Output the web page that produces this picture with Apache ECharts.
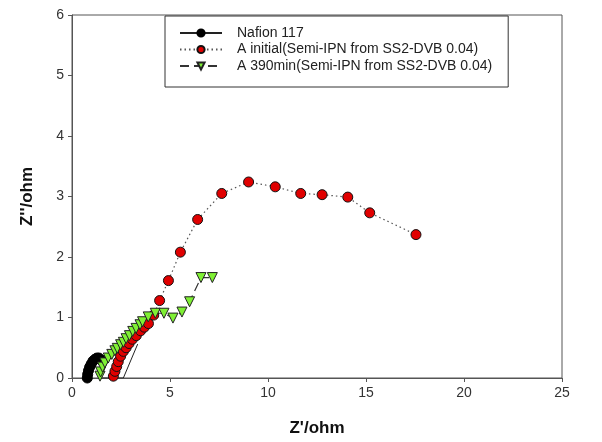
<!DOCTYPE html>
<html>
<head>
<meta charset="utf-8">
<script src="https://cdn.jsdelivr.net/npm/echarts@6/dist/echarts.min.js"></script>
<style>
  html, body { margin: 0; padding: 0; background: #fff; }
  #main { width: 602px; height: 442px; }
</style>
</head>
<body>
<div id="main"></div>
<script>
// Nyquist data (Z' , Z'')
const nafionX = [0.78, 0.80, 0.84, 0.90, 0.98, 1.07, 1.17, 1.27, 1.37, 1.47, 1.50, 2.62, 3.35]
const nafionY = [0.00, 0.06, 0.12, 0.18, 0.23, 0.28, 0.31, 0.33, 0.33, 0.30, 0.00, 0.00, 0.56]
// last three Nafion points carry no marker (only the line shows)
const nafionHidden = [false, false, false, false, false, false, false, false, false, false, true, true, true]

const initialX = [2.11, 2.19, 2.28, 2.36, 2.48, 2.62, 2.76, 2.91, 3.08, 3.28, 3.50, 3.69, 3.90, 4.17, 4.47, 4.92, 5.53, 6.41, 7.64, 9.01, 10.37, 11.67, 12.76, 14.07, 15.19, 17.55]
const initialY = [0.03, 0.11, 0.19, 0.27, 0.36, 0.44, 0.50, 0.57, 0.64, 0.70, 0.78, 0.84, 0.90, 1.04, 1.28, 1.61, 2.08, 2.62, 3.05, 3.24, 3.16, 3.05, 3.03, 2.99, 2.73, 2.37]

const min390X = [1.43, 1.46, 1.56, 1.68, 1.85, 2.03, 2.19, 2.31, 2.48, 2.62, 2.76, 2.93, 3.10, 3.27, 3.47, 3.60, 3.89, 4.25, 4.69, 5.15, 5.61, 6.00, 6.58, 7.16]
const min390Y = [0.03, 0.10, 0.18, 0.25, 0.33, 0.39, 0.45, 0.49, 0.55, 0.59, 0.65, 0.70, 0.77, 0.82, 0.88, 0.93, 1.01, 1.07, 1.07, 0.99, 1.09, 1.26, 1.66, 1.66]

const seriesNames = ['Nafion 117', 'A initial(Semi-IPN from SS2-DVB 0.04)', 'A 390min(Semi-IPN from SS2-DVB 0.04)']

const pairs = (xs, ys) => xs.map((x, i) => [x, ys[i]])

const chart = echarts.init(document.getElementById('main'))

const axisText = { color: '#333', fontSize: 14, fontFamily: 'Liberation Sans, Arial, sans-serif' }
const nameText = { color: '#111', fontSize: 17, fontWeight: 'bold', fontFamily: 'Liberation Sans, Arial, sans-serif' }

chart.setOption({
  animation: false,
  backgroundColor: '#fff',
  grid: {
    left: 72,
    right: 40,
    top: 15,
    bottom: 61,
    show: true,
    borderColor: '#555',
    borderWidth: 1
  },
  legend: {
    orient: 'vertical',
    left: 165,
    top: 16,
    padding: [10, 16, 14, 14],
    itemWidth: 42,
    itemHeight: 9,
    itemGap: 2.5,
    borderColor: '#333',
    borderWidth: 1,
    backgroundColor: '#fff',
    textStyle: {
      color: '#222',
      fontSize: 14,
      fontFamily: 'Liberation Sans, Arial, sans-serif',
      padding: [0, 0, 0, 10]
    },
    data: seriesNames
  },
  xAxis: {
    type: 'value',
    min: 0,
    max: 25,
    interval: 5,
    name: "Z'/ohm",
    nameLocation: 'middle',
    nameGap: 42,
    nameTextStyle: nameText,
    splitLine: { show: false },
    axisLine: { onZero: false, lineStyle: { color: '#555' } },
    axisTick: { inside: false, length: 4, lineStyle: { color: '#555' } },
    axisLabel: Object.assign({ margin: 8 }, axisText)
  },
  yAxis: {
    type: 'value',
    min: 0,
    max: 6,
    interval: 1,
    name: "Z''/ohm",
    nameLocation: 'middle',
    nameGap: 36,
    nameTextStyle: nameText,
    splitLine: { show: false },
    axisLine: { show: true, onZero: false, lineStyle: { color: '#555' } },
    axisTick: { show: true, inside: false, length: 4, lineStyle: { color: '#555' } },
    axisLabel: Object.assign({ margin: 8 }, axisText)
  },
  series: [
    {
      name: seriesNames[0],
      type: 'line',
      data: nafionX.map((x, i) => nafionHidden[i]
        ? { value: [x, nafionY[i]], symbol: 'none' }
        : [x, nafionY[i]]),
      symbol: 'circle',
      symbolSize: 10,
      itemStyle: { color: '#000', borderColor: '#000', borderWidth: 1 },
      lineStyle: { color: '#222', width: 1, type: 'solid' }
    },
    {
      name: seriesNames[1],
      type: 'line',
      data: pairs(initialX, initialY),
      symbol: 'circle',
      symbolSize: 10,
      itemStyle: { color: '#e00000', borderColor: '#111', borderWidth: 1 },
      lineStyle: { color: '#555', width: 1.2, type: [1.5, 3] }
    },
    {
      name: seriesNames[2],
      type: 'line',
      data: pairs(min390X, min390Y),
      symbol: 'triangle',
      symbolRotate: 180,
      symbolSize: 10,
      itemStyle: { color: '#7ff034', borderColor: '#222', borderWidth: 1 },
      lineStyle: { color: '#333', width: 1.2, type: [9, 5] }
    }
  ]
})
</script>
</body>
</html>
